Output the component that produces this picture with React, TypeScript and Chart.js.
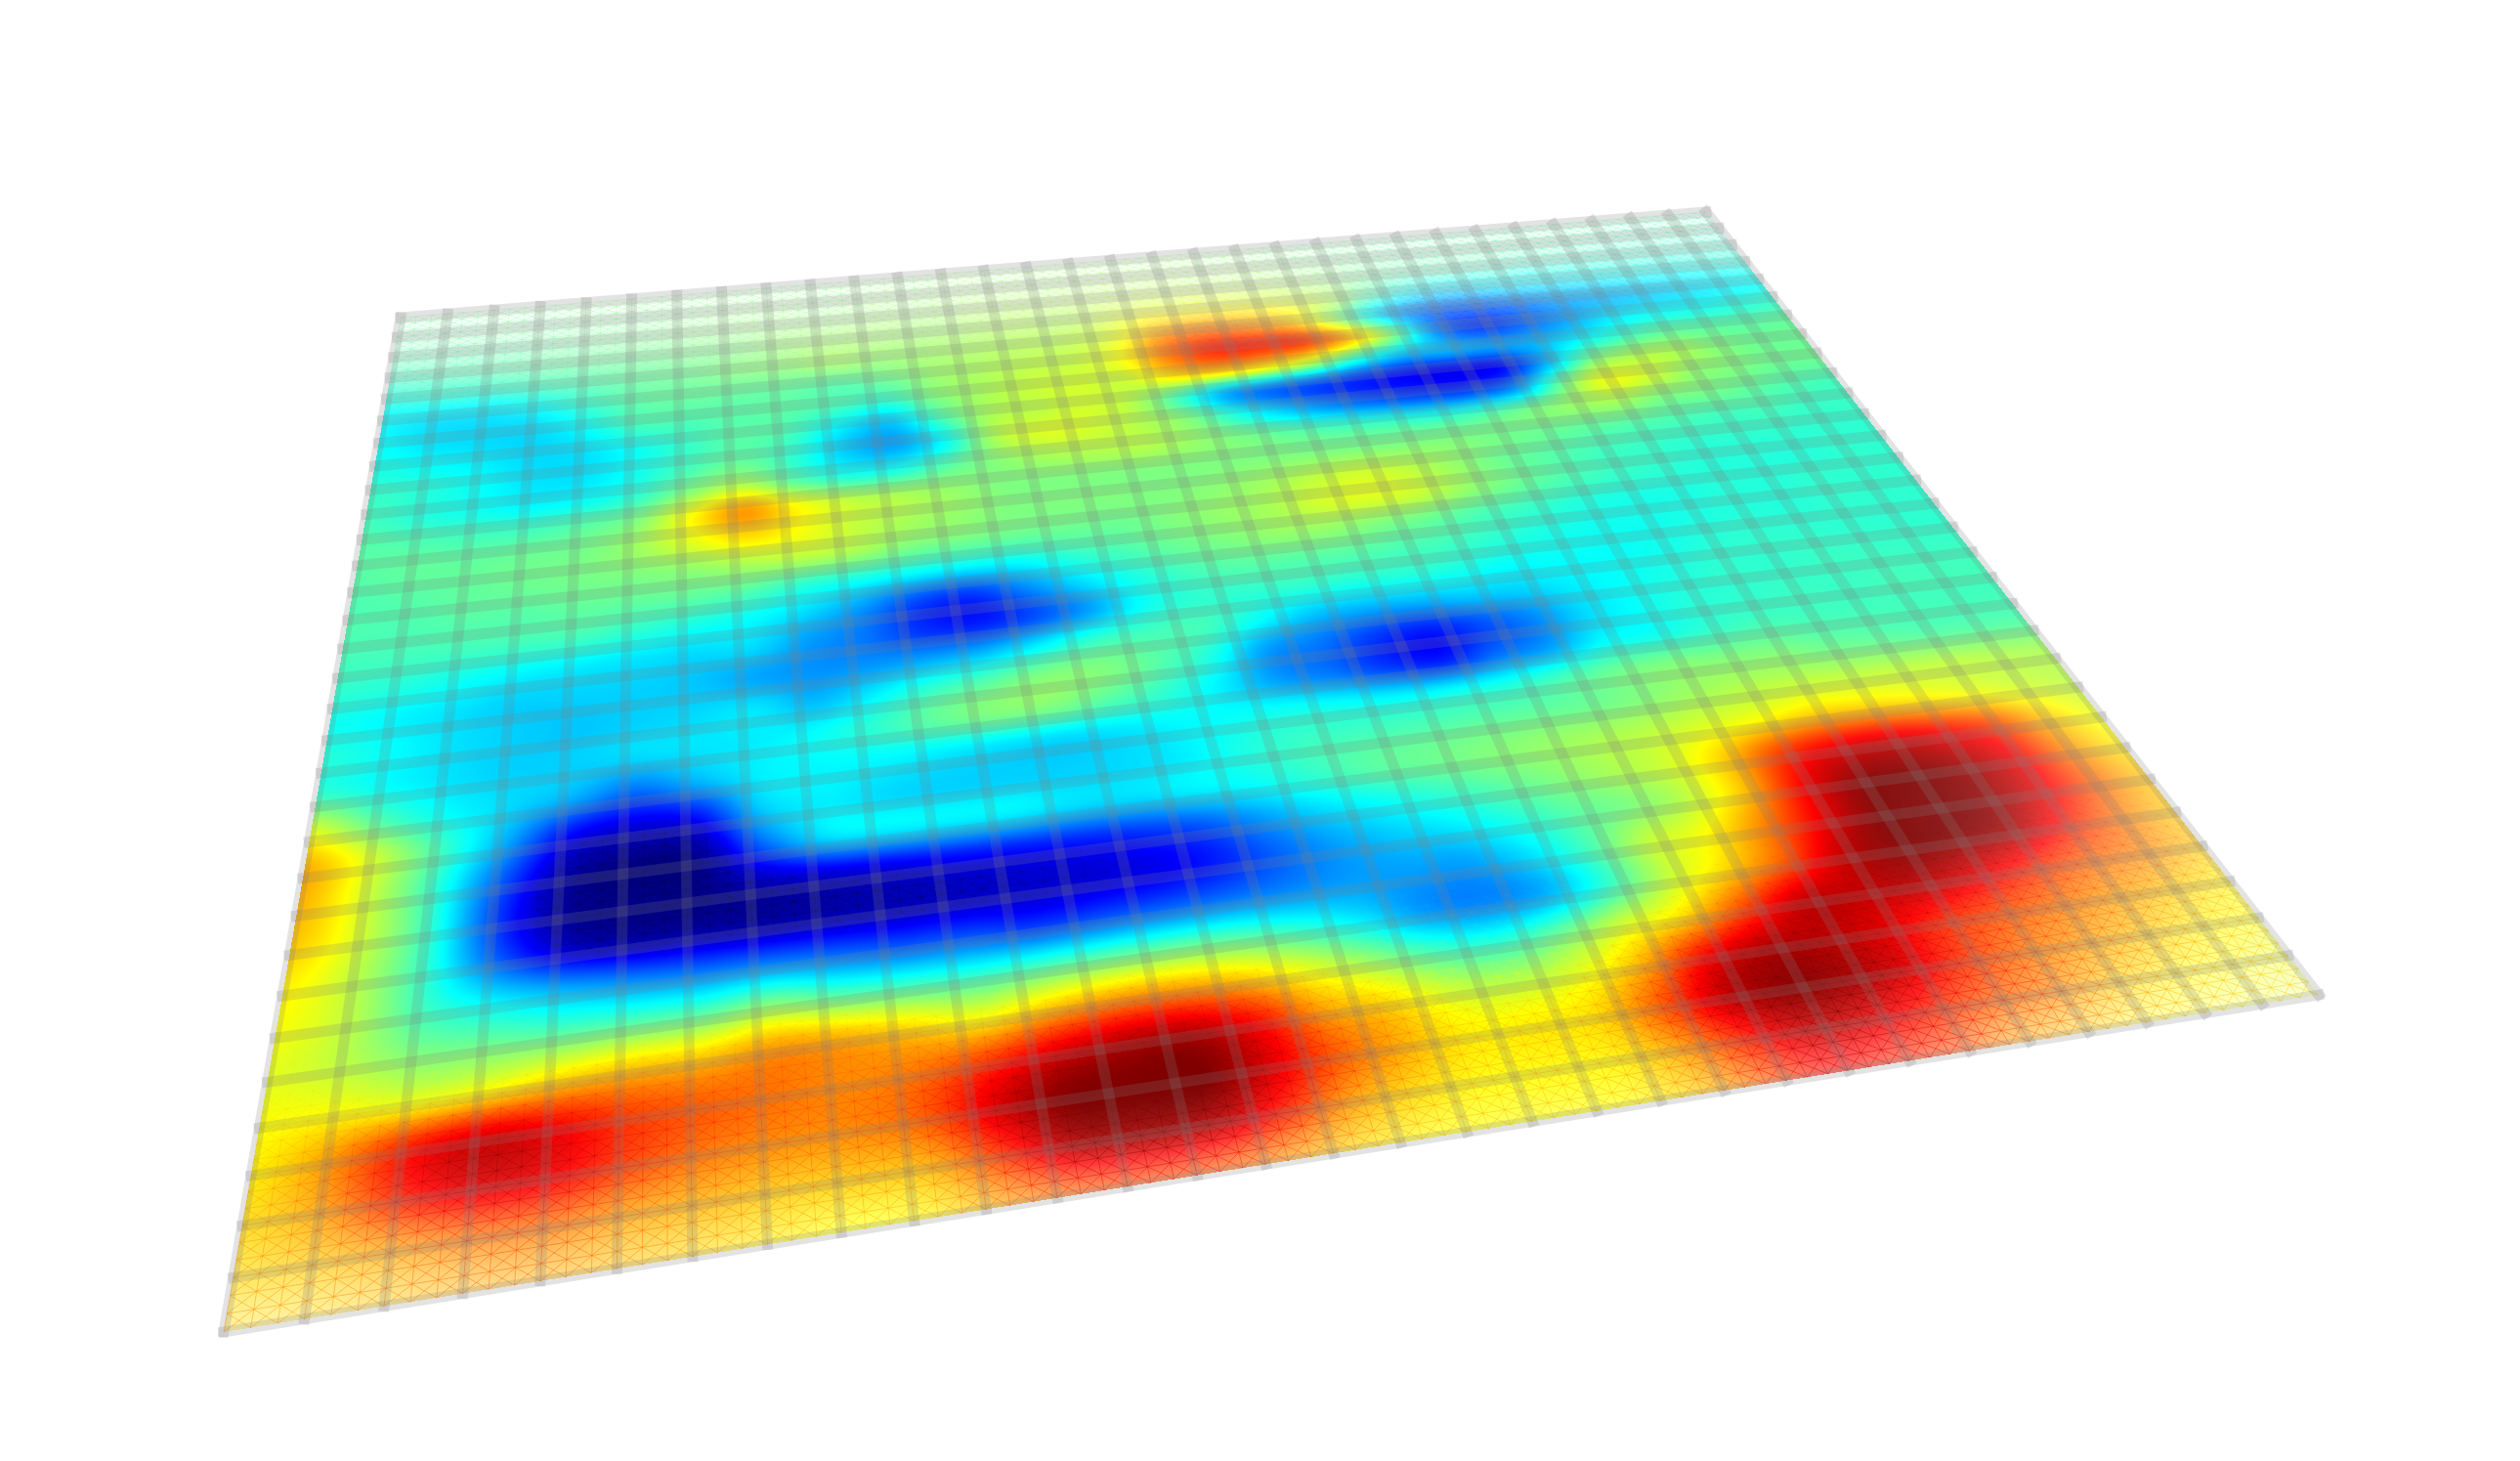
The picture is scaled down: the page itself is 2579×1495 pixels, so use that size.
import { useEffect, useRef } from "react";
import { Chart, registerables } from "chart.js";
Chart.register(...registerables);

const WIDTH = 2579;
const HEIGHT = 1495;
const CELLS = 31;
const SUB = 3;

// Surface height (percent of colour range), one list per sampled row, far edge first.
const r00 = [48,48,49,49,50,50,50,50,50,50,51,51,52,52,52,52,52,52,51,50,49,48,47,47,46,46,46,46,45,45,45];
const r01 = [47,47,48,48,49,49,50,51,51,51,52,52,53,53,53,54,54,54,53,52,50,48,47,46,46,45,45,44,44,44,44];
const r02 = [45,46,46,47,48,49,50,51,52,52,53,53,54,55,55,56,57,57,56,55,52,48,45,44,43,42,42,42,42,42,42];
const r03 = [43,44,45,46,47,48,49,50,52,53,53,53,54,55,55,58,62,63,62,60,55,44,36,34,36,36,37,38,38,39,40];
const r04 = [40,41,41,43,45,47,48,50,51,53,52,53,54,55,56,60,72,76,74,68,52,34,24,22,24,28,30,32,34,36,38];
const r05 = [37,35,35,37,42,46,47,47,47,46,48,52,54,56,57,62,76,84,84,82,70,50,26,18,22,28,34,37,38,40,42];
const r06 = [38,35,34,34,38,44,45,46,46,44,42,50,54,57,58,58,66,68,64,56,42,32,30,28,30,36,42,46,46,46,47];
const r07 = [40,38,36,34,35,39,43,46,44,36,32,44,54,56,58,55,44,30,24,20,16,13,12,14,30,48,54,54,50,48,48];
const r08 = [43,41,38,35,35,39,44,47,42,33,29,38,54,59,58,55,50,40,32,26,22,20,20,26,46,60,58,52,50,48,48];
const r09 = [44,41,39,37,38,42,50,55,46,40,40,46,51,54,55,55,52,49,46,44,43,42,44,48,52,54,50,49,47,45,44];
const r10 = [46,45,44,44,46,50,62,72,62,56,54,52,50,50,50,50,50,50,50,50,50,50,49,48,47,46,45,44,44,43,43];
const r11 = [46,47,47,48,49,53,60,66,62,57,54,52,50,50,50,50,51,53,56,58,56,52,48,46,44,43,42,42,42,42,42];
const r12 = [45,46,47,48,49,50,52,55,56,54,50,49,48,48,48,50,52,54,58,59,57,52,48,45,43,42,41,41,41,42,42];
const r13 = [45,45,46,46,47,47,47,46,42,40,38,37,38,42,45,48,50,52,52,50,48,45,43,41,40,40,41,41,42,42,42];
const r14 = [44,44,44,44,44,42,40,38,34,28,20,18,26,34,40,44,46,46,46,45,44,42,40,39,39,40,41,41,42,42,42];
const r15 = [42,41,39,37,36,35,34,34,28,24,17,15,20,28,38,42,42,42,41,41,40,38,38,38,39,41,42,42,42,42,42];
const r16 = [39,37,35,33,33,33,32,29,27,27,28,30,36,42,44,44,38,32,30,30,32,33,36,38,40,42,42,43,43,43,43];
const r17 = [41,38,35,33,32,33,34,35,31,36,42,46,50,50,46,40,28,24,18,15,20,26,34,38,41,42,43,43,44,44,44];
const r18 = [42,38,35,33,33,34,35,36,38,42,47,50,50,46,42,36,28,24,18,15,23,28,37,39,42,44,44,44,44,44,44];
const r19 = [58,46,38,34,30,24,30,36,37,37,36,35,34,35,37,38,39,38,37,38,40,44,48,50,50,50,48,47,46,46,46];
const r20 = [70,58,44,30,14,10,14,32,36,34,33,33,33,34,36,40,43,44,45,46,47,48,50,53,55,56,56,56,56,55,54];
const r21 = [70,58,42,22,5,1,3,22,34,36,36,36,34,34,36,38,42,46,48,50,52,54,56,59,62,66,66,64,61,58,56];
const r22 = [68,58,42,18,3,1,1,6,9,11,13,14,15,17,21,28,34,38,42,46,50,54,58,67,80,87,89,86,80,68,60];
const r23 = [64,56,42,22,8,4,4,4,5,6,7,8,9,11,15,22,28,32,35,40,46,50,56,68,86,97,99,96,88,74,64];
const r24 = [62,56,44,36,30,26,24,24,22,20,20,18,20,22,24,26,28,28,28,34,44,56,62,74,88,99,100,98,90,78,68];
const r25 = [60,56,50,48,46,46,46,50,45,43,42,44,46,47,46,42,36,28,26,30,42,56,66,78,92,99,99,96,86,76,68];
const r26 = [62,62,60,62,66,68,68,72,70,66,62,68,72,72,68,60,52,44,42,48,58,66,80,92,93,94,90,84,78,74,68];
const r27 = [64,72,84,90,87,81,78,76,74,76,82,90,94,94,86,72,66,58,56,60,70,86,94,94,90,84,80,76,72,68,64];
const r28 = [66,72,84,90,88,81,76,74,74,78,90,99,100,100,90,78,70,64,64,66,78,92,98,96,90,82,76,72,68,64,62];
const r29 = [66,68,72,76,76,72,70,68,68,70,82,94,96,94,84,72,66,63,63,64,72,84,92,90,84,78,74,68,64,62,60];
const r30 = [66,66,68,70,70,68,66,64,62,64,72,78,80,78,72,66,63,62,62,63,68,78,86,84,80,72,68,64,62,60,60];
const surfaceRows = [r00,r01,r02,r03,r04,r05,r06,r07,r08,r09,r10,r11,r12,r13,r14,r15,r16,r17,r18,r19,r20,r21,r22,r23,r24,r25,r26,r27,r28,r29,r30];

// Opacity of the surface and strength of its fine mesh at each grid row line (0 = far edge, 31 = near edge).
const rowOpacity = [0.02,0.08,0.22,0.45,0.72,0.9,0.98,1,1,1,1,1,1,1,1,1,1,1,1,1,1,1,1,1,1,1,1,1,1,1,0.9,0.62];
const meshStrength = [0.25,0.25,0.22,0.2,0.18,0.14,0.08,0.04,0,0,0,0,0,0,0,0,0,0,0,0,0,0,0,0,0,0.02,0.08,0.18,0.3,0.4,0.45,0.45];

// Where the four corners of the grid fall, as pixels.
const cornerFarLeft = [410, 325];
const cornerFarRight = [1746, 217];
const cornerNearRight = [2373, 1018];
const cornerNearLeft = [229, 1363];

const clamp01 = (t: number) => (t < 0 ? 0 : t > 1 ? 1 : t);
const jet = (t: number) => [
  255 * clamp01(1.5 - Math.abs(4 * t - 3)),
  255 * clamp01(1.5 - Math.abs(4 * t - 2)),
  255 * clamp01(1.5 - Math.abs(4 * t - 1)),
];

const catmull = (a: number, b: number, c: number, d: number, t: number) =>
  b + 0.5 * t * (c - a + t * (2 * a - 5 * b + 4 * c - d + t * (3 * (b - c) + d - a)));

// Smooth read of the table, u and v in 0..1
const sampleSurface = (u: number, v: number) => {
  const n = surfaceRows.length - 1;
  const fx = clamp01(u) * n;
  const fy = clamp01(v) * n;
  const ix = Math.min(n - 1, Math.floor(fx));
  const iy = Math.min(n - 1, Math.floor(fy));
  const tx = fx - ix;
  const ty = fy - iy;
  const col = [0, 0, 0, 0];
  for (let k = -1; k <= 2; k++) {
    const row = surfaceRows[Math.max(0, Math.min(n, iy + k))];
    col[k + 1] = catmull(
      row[Math.max(0, ix - 1)],
      row[ix],
      row[ix + 1],
      row[Math.min(n, ix + 2)],
      tx,
    );
  }
  return clamp01(catmull(col[0], col[1], col[2], col[3], ty) / 100);
};

const lerpRow = (list: number[], v: number) => {
  const f = clamp01(v) * CELLS;
  const i = Math.min(CELLS - 1, Math.floor(f));
  return list[i] + (list[i + 1] - list[i]) * (f - i);
};

const opacityAt = (u: number, v: number) => {
  const rightFade = clamp01((u - 0.8) / 0.2) * clamp01((v - 0.6) / 0.28);
  const side = clamp01((Math.abs(u - 0.5) - 0.2) / 0.3);
  const nearFade = side * clamp01((v - 0.9) / 0.1);
  return lerpRow(rowOpacity, v) * (1 - 0.42 * rightFade) * (1 - 0.45 * nearFade);
};

// Homography from the unit square to the quad, and its inverse
const makeHomography = () => {
  const [x0, y0] = cornerFarLeft;
  const [x1, y1] = cornerFarRight;
  const [x2, y2] = cornerNearRight;
  const [x3, y3] = cornerNearLeft;
  const dx1 = x1 - x2, dx2 = x3 - x2, sx = x0 - x1 + x2 - x3;
  const dy1 = y1 - y2, dy2 = y3 - y2, sy = y0 - y1 + y2 - y3;
  const den = dx1 * dy2 - dx2 * dy1;
  const g = (sx * dy2 - dx2 * sy) / den;
  const h = (dx1 * sy - sx * dy1) / den;
  const a = x1 - x0 + g * x1, b = x3 - x0 + h * x3, c = x0;
  const d = y1 - y0 + g * y1, e = y3 - y0 + h * y3, f = y0;
  return {
    forward: (u: number, v: number) => {
      const w = g * u + h * v + 1;
      return [(a * u + b * v + c) / w, (d * u + e * v + f) / w];
    },
    A: e - f * h, B: c * h - b, C: b * f - c * e,
    D: f * g - d, E: a - c * g, F: c * d - a * f,
    G: d * h - e * g, H: b * g - a * h, I: a * e - b * d,
  };
};

const surfacePlugin = {
  id: "perspectiveSurface",
  beforeDatasetsDraw(chart: any) {
    const ctx: CanvasRenderingContext2D = chart.ctx;
    const xs = chart.scales.x;
    const ys = chart.scales.y;
    const area = chart.chartArea;
    const H = makeHomography();
    // grid position -> library scale pixel -> perspective pixel
    const project = (col: number, row: number) => {
      const px = xs.getPixelForValue(col);
      const py = ys.getPixelForValue(row);
      return H.forward((px - area.left) / (area.right - area.left), (py - area.top) / (area.bottom - area.top));
    };

    const allX = [cornerFarLeft[0], cornerFarRight[0], cornerNearRight[0], cornerNearLeft[0]];
    const allY = [cornerFarLeft[1], cornerFarRight[1], cornerNearRight[1], cornerNearLeft[1]];
    const bx0 = Math.floor(Math.min(...allX)), bx1 = Math.ceil(Math.max(...allX));
    const by0 = Math.floor(Math.min(...allY)), by1 = Math.ceil(Math.max(...allY));
    const bw = bx1 - bx0, bh = by1 - by0;
    const off = document.createElement("canvas");
    off.width = bw;
    off.height = bh;
    const octx = off.getContext("2d")!;
    const img = octx.createImageData(bw, bh);
    const data = img.data;
    for (let py = 0; py < bh; py++) {
      const Y = by0 + py + 0.5;
      for (let px = 0; px < bw; px++) {
        const X = bx0 + px + 0.5;
        const w = H.G * X + H.H * Y + H.I;
        const u = (H.A * X + H.B * Y + H.C) / w;
        const v = (H.D * X + H.E * Y + H.F) / w;
        if (u < 0 || u > 1 || v < 0 || v > 1) continue;
        const rgb = jet(sampleSurface(u, v));
        const o = 4 * (py * bw + px);
        data[o] = rgb[0];
        data[o + 1] = rgb[1];
        data[o + 2] = rgb[2];
        data[o + 3] = 255 * opacityAt(u, v);
      }
    }
    octx.putImageData(img, 0, 0);
    ctx.save();
    ctx.drawImage(off, bx0, by0);

    // fine triangle mesh, visible where the surface fades and in the deepest blue
    ctx.lineWidth = 1;
    const seg = (c0: number, r0: number, c1: number, r1: number) => {
      const um = (c0 + c1) / 2 / CELLS;
      const vm = (r0 + r1) / 2 / CELLS;
      const val = sampleSurface(um, vm);
      let alpha = lerpRow(meshStrength, vm);
      let rgb = jet(vm > 0.5 ? Math.min(1, val + 0.07) : val);
      if (val < 0.12 && vm > 0.6) {
        rgb = [0, 0, 40];
        alpha = Math.max(alpha, 0.22 * clamp01((0.12 - val) / 0.06));
      }
      if (alpha < 0.015) return;
      const a = project(c0, r0);
      const b = project(c1, r1);
      ctx.strokeStyle = `rgba(${rgb[0] | 0},${rgb[1] | 0},${rgb[2] | 0},${alpha})`;
      ctx.beginPath();
      ctx.moveTo(a[0], a[1]);
      ctx.lineTo(b[0], b[1]);
      ctx.stroke();
    };
    const step = 1 / SUB;
    const total = CELLS * SUB;
    for (let i = 0; i < total; i++) {
      for (let j = 0; j < total; j++) {
        const c = i * step, r = j * step;
        seg(c, r, c + step, r);
        seg(c, r, c, r + step);
        seg(c, r, c + step, r + step);
        seg(c + step, r, c, r + step);
      }
    }

    // thick grid lines, constant screen width
    ctx.lineWidth = 11;
    ctx.lineCap = "square";
    ctx.strokeStyle = "rgba(128,128,128,0.22)";
    for (let i = 0; i <= CELLS; i++) {
      const a = project(i, 0);
      const b = project(i, CELLS);
      ctx.beginPath();
      ctx.moveTo(a[0], a[1]);
      ctx.lineTo(b[0], b[1]);
      ctx.stroke();
    }
    for (let j = 0; j <= CELLS; j++) {
      const a = project(0, j);
      const b = project(CELLS, j);
      ctx.beginPath();
      ctx.moveTo(a[0], a[1]);
      ctx.lineTo(b[0], b[1]);
      ctx.stroke();
    }
    ctx.restore();
  },
};

export default function App() {
  const ref = useRef<HTMLCanvasElement | null>(null);
  useEffect(() => {
    document.body.style.margin = "0";
    document.body.style.background = "#fff";
    const points = surfaceRows.flatMap((row, r) =>
      row.map((value, c) => ({ x: (c / (row.length - 1)) * CELLS, y: (r / (surfaceRows.length - 1)) * CELLS, value })),
    );
    const chart = new Chart(ref.current!, {
      type: "scatter",
      data: { datasets: [{ data: points, pointRadius: 0, showLine: false }] },
      options: {
        animation: false,
        responsive: false,
        layout: { padding: 0 },
        plugins: { legend: { display: false }, tooltip: { enabled: false } },
        scales: {
          x: { type: "linear", display: false, min: 0, max: CELLS },
          y: { type: "linear", display: false, min: 0, max: CELLS, reverse: true },
        },
      },
      plugins: [surfacePlugin],
    } as any);
    return () => chart.destroy();
  }, []);
  return <canvas ref={ref} width={WIDTH} height={HEIGHT} style={{ display: "block", width: WIDTH, height: HEIGHT }} />;
}
